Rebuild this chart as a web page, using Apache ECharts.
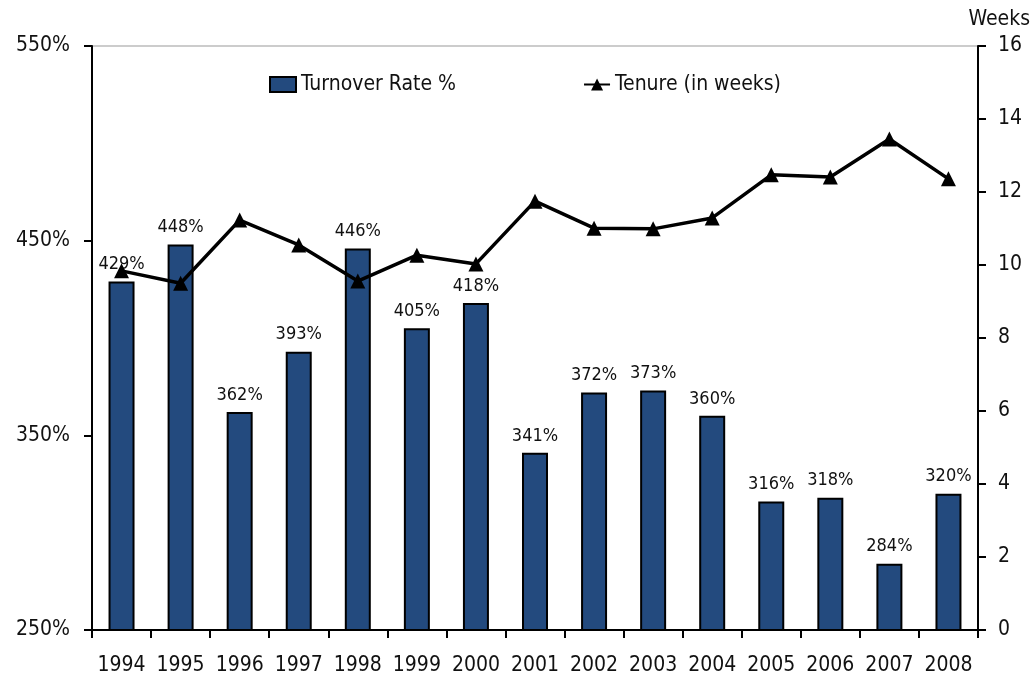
<!DOCTYPE html>
<html><head><meta charset="utf-8">
<script src="https://cdn.jsdelivr.net/npm/echarts@6/dist/echarts.min.js"></script>
<style>html,body{margin:0;padding:0;background:#fff;overflow:hidden}#c{width:1033px;height:681px}</style>
</head><body><div id="c"></div>
<script>
const years = ['1994','1995','1996','1997','1998','1999','2000','2001','2002','2003','2004','2005','2006','2007','2008'];
const turnover = [429,448,362,393,446,405,418,341,372,373,360,316,318,284,320];
const tenure = [9.84,9.5,11.23,10.55,9.56,10.27,10.03,11.75,11.01,10.99,11.29,12.47,12.41,13.45,12.36];
const FONT = '"Liberation Sans Narrow","DejaVu Sans Condensed",sans-serif';
const chart = echarts.init(document.getElementById('c'));
chart.setOption({
  animation:false,
  textStyle:{fontFamily:FONT},
  title:{text:'Weeks',right:3,top:9,padding:0,textStyle:{fontFamily:FONT,fontSize:21,fontWeight:'normal',color:'#111'}},
  grid:{left:92,right:55,top:46,bottom:51,containLabel:false,outerBoundsMode:'none',show:true,borderColor:'#999',borderWidth:1},
  legend:{left:264,top:69,itemGap:127,itemWidth:26,itemHeight:15,
    textStyle:{fontFamily:FONT,fontSize:21,color:'#111'},
    data:[{name:'Turnover Rate %',icon:'rect'},{name:'Tenure (in weeks)'}]},
  xAxis:{type:'category',data:years,boundaryGap:true,
    axisLine:{lineStyle:{color:'#000',width:2}},
    axisTick:{show:true,length:8,lineStyle:{color:'#000',width:2}},
    axisLabel:{fontFamily:FONT,fontSize:21,color:'#111',margin:25,interval:0}},
  yAxis:[
    {type:'value',min:250,max:550,interval:100,position:'left',
      axisLine:{show:true,lineStyle:{color:'#000',width:2}},
      axisTick:{show:true,length:8,lineStyle:{color:'#000',width:2}},
      splitLine:{show:false},
      axisLabel:{fontFamily:FONT,fontSize:21,color:'#111',margin:22,formatter:'{value}%'}},
    {type:'value',min:0,max:16,interval:2,position:'right',
      axisLine:{show:true,lineStyle:{color:'#000',width:2}},
      axisTick:{show:true,length:8,lineStyle:{color:'#000',width:2}},
      splitLine:{show:false},
      axisLabel:{fontFamily:FONT,fontSize:21,color:'#111',margin:20}}
  ],
  series:[
    {name:'Turnover Rate %',type:'bar',yAxisIndex:0,data:turnover,barWidth:'44%',
      itemStyle:{color:'#234a7e',borderColor:'#000',borderWidth:2},
      label:{show:true,position:'top',distance:8,fontFamily:FONT,fontSize:18,color:'#111',formatter:'{c}%'}},
    {name:'Tenure (in weeks)',type:'line',yAxisIndex:1,data:tenure,
      symbol:'triangle',symbolSize:15,
      lineStyle:{color:'#000',width:3.5},itemStyle:{color:'#000'},z:5}
  ]
});
</script></body></html>
